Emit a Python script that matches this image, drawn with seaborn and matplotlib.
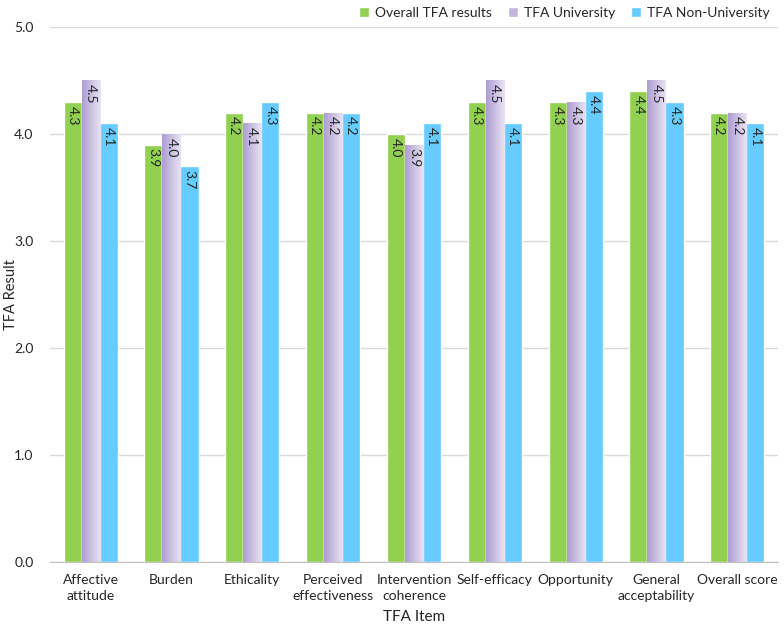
import numpy as np
import pandas as pd
import matplotlib
matplotlib.use("Agg")
import matplotlib.pyplot as plt
import seaborn as sns
from matplotlib.colors import LinearSegmentedColormap

# Datos del gráfico
items = ["Affective\nattitude", "Burden", "Ethicality", "Perceived\neffectiveness",
         "Intervention\ncoherence", "Self-efficacy", "Opportunity", "General\nacceptability",
         "Overall score"]
overall = [4.3, 3.9, 4.2, 4.2, 4.0, 4.3, 4.3, 4.4, 4.2]
university = [4.5, 4.0, 4.1, 4.2, 3.9, 4.5, 4.3, 4.5, 4.2]
non_university = [4.1, 3.7, 4.3, 4.2, 4.1, 4.1, 4.4, 4.3, 4.1]
series = ["Overall TFA results", "TFA University", "TFA Non-University"]
colores = ["#92D050", "#C3B5E0", "#66CCFF"]

df = pd.DataFrame({"item": items * 3,
                   "serie": np.repeat(series, len(items)),
                   "valor": overall + university + non_university})

sns.set_style("white")
plt.rcParams["font.family"] = ["Lato", "DejaVu Sans"]

fig = plt.figure(figsize=(7.84, 6.27), dpi=100)
ax = fig.add_axes([0.064, 0.104, 0.928, 0.853])

sns.barplot(data=df, x="item", y="valor", hue="serie", palette=colores,
            width=0.67, gap=0, errorbar=None, saturation=1, ax=ax, legend=True)

# Degradado horizontal en las barras moradas
cmap = LinearSegmentedColormap.from_list("morado", ["#AE9DD2", "#E9E4F3"])
grad = np.linspace(0, 1, 64).reshape(1, -1)
for bar in ax.containers[1]:
    x0, y0 = bar.get_x(), bar.get_y()
    w, h = bar.get_width(), bar.get_height()
    im = ax.imshow(grad, cmap=cmap, extent=[x0, x0 + w, y0, y0 + h],
                   aspect="auto", zorder=bar.get_zorder() + 0.1)
    im.set_clip_path(bar)

# Etiquetas de valor dentro de las barras
for cont in ax.containers:
    for bar in cont:
        ax.text(bar.get_x() + bar.get_width() / 2, bar.get_height() - 0.035,
                f"{bar.get_height():.1f}", rotation=270, ha="center", va="top",
                fontsize=10, color="#262626", zorder=5)

ax.set_xlim(-0.5, len(items) - 0.5)
ax.set_ylim(0, 5)
ax.set_yticks(np.arange(0, 5.01, 1.0))
ax.set_yticklabels([f"{v:.1f}" for v in np.arange(0, 5.01, 1.0)], fontsize=10)
ax.set_xticks(range(len(items)))
ax.set_xticklabels(items, fontsize=10, linespacing=1.35)
ax.yaxis.grid(True, color="#D9D9D9", linewidth=1)
ax.set_axisbelow(True)
ax.tick_params(axis="x", length=0, pad=9)
ax.tick_params(axis="y", length=0, pad=12)
ax.set_xticks(np.arange(-0.5, len(items), 1.0), minor=True)
ax.tick_params(axis="x", which="minor", length=4, color="#BFBFBF", width=1)

for s in ["top", "right", "left"]:
    ax.spines[s].set_visible(False)
ax.spines["bottom"].set_color("#BFBFBF")

ax.set_xlabel("TFA Item", fontsize=11)
ax.set_ylabel("TFA Result", fontsize=10.5)
ax.xaxis.set_label_coords(0.5, -0.09)
ax.yaxis.set_label_coords(-0.044, 0.5)

ax.legend(loc="lower right", bbox_to_anchor=(1.0, 1.0), ncol=3, frameon=False,
          fontsize=10, handlelength=0.7, handleheight=0.7, columnspacing=1.2,
          handletextpad=0.4, borderaxespad=0.2)

fig.savefig("out.png", dpi=100)
